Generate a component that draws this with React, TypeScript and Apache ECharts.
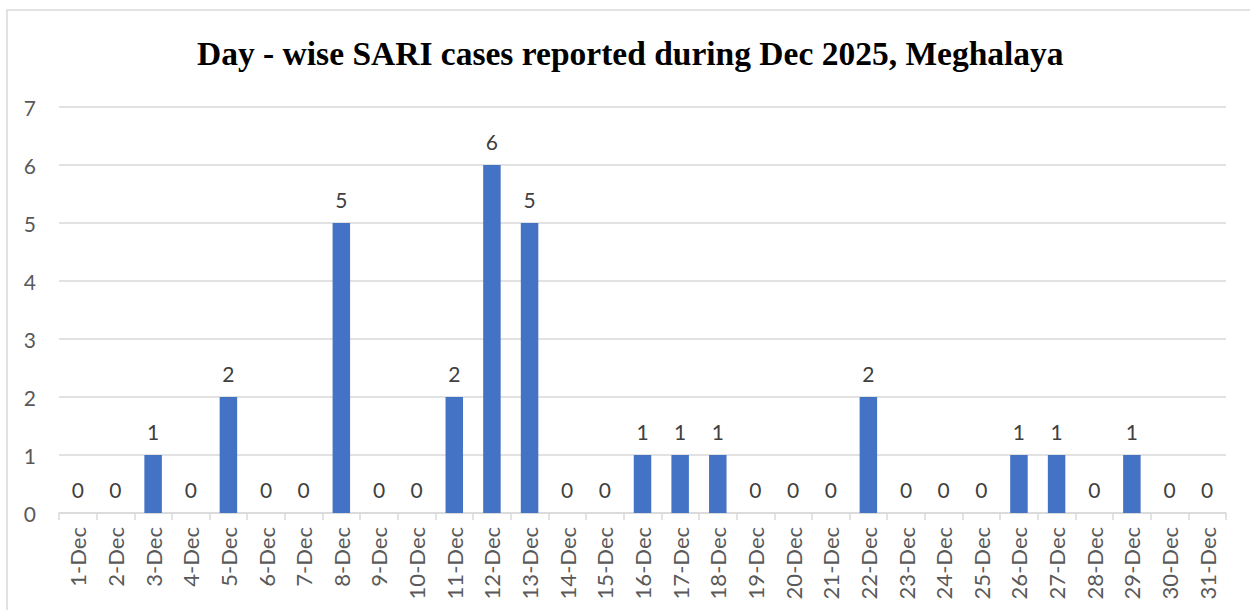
import React, { useEffect, useRef } from "react";
import * as echarts from "echarts";

const titleText = "Day - wise SARI cases reported during Dec 2025, Meghalaya";
const days: string[] = [
  "1-Dec", "2-Dec", "3-Dec", "4-Dec", "5-Dec", "6-Dec", "7-Dec", "8-Dec", "9-Dec", "10-Dec",
  "11-Dec", "12-Dec", "13-Dec", "14-Dec", "15-Dec", "16-Dec", "17-Dec", "18-Dec", "19-Dec", "20-Dec",
  "21-Dec", "22-Dec", "23-Dec", "24-Dec", "25-Dec", "26-Dec", "27-Dec", "28-Dec", "29-Dec", "30-Dec", "31-Dec",
];
const cases: number[] = [
  0, 0, 1, 0, 2, 0, 0, 5, 0, 0,
  2, 6, 5, 0, 0, 1, 1, 1, 0, 0,
  0, 2, 0, 0, 0, 1, 1, 0, 1, 0, 0,
];
const yMin = 0;
const yMax = 7;
const yInterval = 1;

export default function App() {
  const ref = useRef<HTMLDivElement>(null);
  useEffect(() => {
    if (!ref.current) return;
    const chart = echarts.init(ref.current, undefined, { renderer: "svg" });
    const labelFont = "Lato, 'Open Sans', 'Liberation Sans', sans-serif";
    chart.setOption({
      animation: false,
      backgroundColor: "#ffffff",
      title: {
        text: titleText,
        left: 192,
        top: 31,
        textStyle: {
          fontFamily: "'Palatino Linotype', 'Book Antiqua', Palatino, 'Liberation Serif', serif",
          fontWeight: "bold",
          fontSize: 33.5,
          color: "#000000",
        },
      },
      graphic: [
        {
          type: "rect",
          shape: { x: 7, y: 10, width: 1260, height: 620 },
          style: { fill: "none", stroke: "#d9d9d9", lineWidth: 1.5 },
          silent: true,
        },
      ],
      grid: { left: 59, right: 24, top: 107, bottom: 97, containLabel: false },
      xAxis: {
        type: "category",
        data: days,
        axisLine: { lineStyle: { color: "#d9d9d9", width: 1.5 } },
        axisTick: { show: true, alignWithLabel: false, length: 7, lineStyle: { color: "#d9d9d9", width: 1.5 } },
        axisLabel: {
          rotate: 90,
          interval: 0,
          margin: 14,
          fontSize: 22,
          fontFamily: labelFont,
          color: "#595959",
        },
      },
      yAxis: {
        type: "value",
        min: yMin,
        max: yMax,
        interval: yInterval,
        axisLine: { show: false },
        axisTick: { show: false },
        splitLine: { lineStyle: { color: "#d9d9d9", width: 1.5 } },
        axisLabel: {
          margin: 23,
          fontSize: 21,
          fontFamily: labelFont,
          color: "#595959",
        },
      },
      series: [
        {
          type: "bar",
          data: cases,
          barWidth: 17.5,
          itemStyle: { color: "#4472c4" },
          label: {
            show: true,
            position: "top",
            distance: 13,
            fontSize: 21,
            fontFamily: labelFont,
            color: "#404040",
          },
        },
      ],
    });
    return () => chart.dispose();
  }, []);
  return (
    <div
      ref={ref}
      style={{ position: "absolute", left: 0, top: 0, width: 1250, height: 610 }}
    />
  );
}
